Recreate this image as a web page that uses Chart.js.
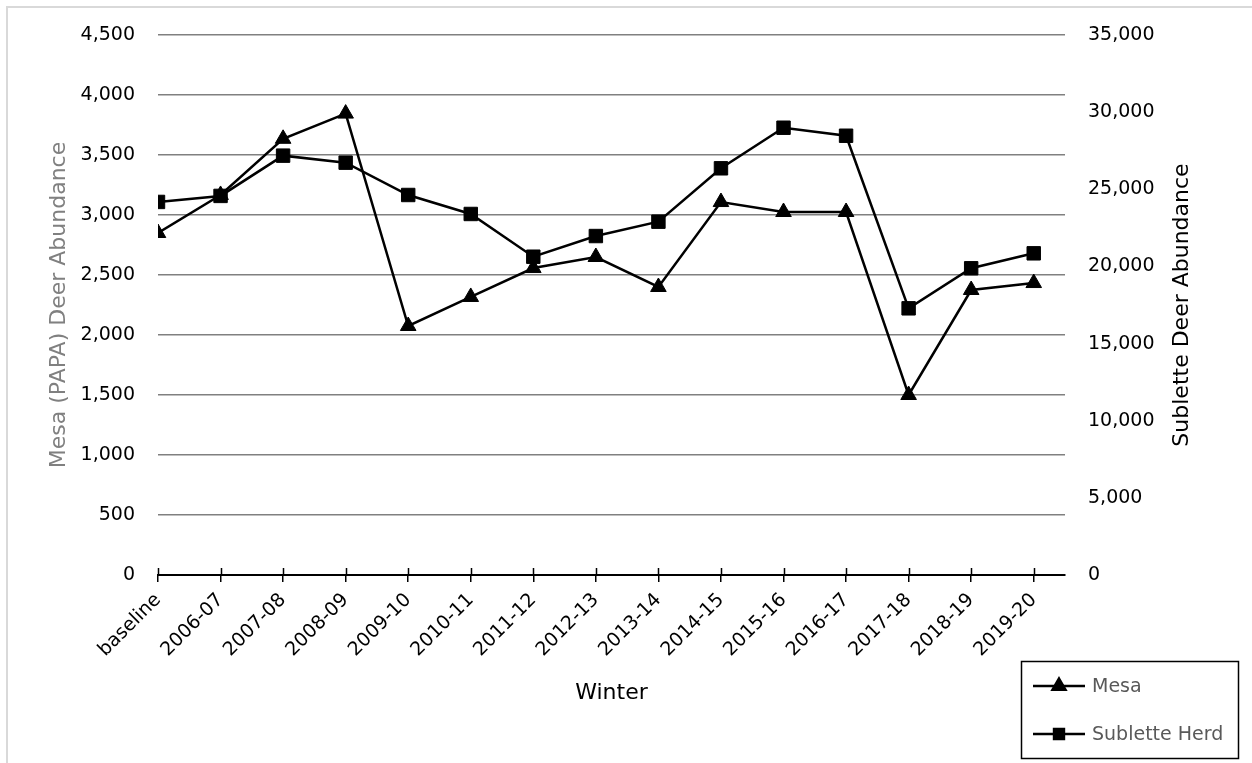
<!DOCTYPE html>
<html>
<head>
<meta charset="utf-8">
<title>Deer Abundance by Winter</title>
<script src="https://cdn.jsdelivr.net/npm/chart.js@4.4.1/dist/chart.umd.min.js"></script>
<style>
  html, body { margin: 0; padding: 0; background: #ffffff; }
  #frame { position: absolute; left: 6px; top: 6px; width: 1300px; height: 800px; border: 2px solid #d9d9d9; }
  #wrap { position: absolute; left: 0; top: 0; width: 1252px; height: 763px; }
</style>
</head>
<body>
<div id="frame"></div>
<div id="wrap"><canvas id="chart" width="1252" height="763"></canvas></div>
<script>
// Winters surveyed
const winters = ['baseline', '2006-07', '2007-08', '2008-09', '2009-10', '2010-11', '2011-12',
  '2012-13', '2013-14', '2014-15', '2015-16', '2016-17', '2017-18', '2018-19', '2019-20'];

// Mesa (PAPA) deer abundance, left axis
const mesaAbundance = [2850, 3167, 3635, 3845, 2075, 2317, 2558, 2650, 2400, 3108, 3025, 3025, 1500, 2375, 2433];

// Sublette herd deer abundance, right axis
const subletteAbundance = [24180, 24570, 27180, 26725, 24630, 23400, 20630, 21970, 22900, 26360, 28990, 28470, 17285, 19880, 20850];

// Axis ranges
const mesaAxis = { min: 0, max: 4500, step: 500 };
const subletteAxis = { min: 0, max: 35000, step: 5000 };

// Axis titles
const mesaTitle = 'Mesa (PAPA) Deer Abundance';
const subletteTitle = 'Sublette Deer Abundance';
const winterTitle = 'Winter';

const FONT = "'DejaVu Sans', Verdana, sans-serif";
const fmt = v => Number(v).toLocaleString('en-US');

const toPoints = arr => arr.map((v, i) => ({ x: i, y: v }));

// Category ticks straddle the x axis line
const crossTicks = {
  id: 'crossTicks',
  beforeDatasetsDraw(chart) {
    const xs = chart.scales.x;
    const ctx = chart.ctx;
    ctx.save();
    ctx.strokeStyle = '#000000';
    ctx.lineWidth = 1.5;
    ctx.beginPath();
    xs.ticks.forEach(t => {
      const px = Math.round(xs.getPixelForValue(t.value)) + 0.5;
      ctx.moveTo(px, xs.top - 7);
      ctx.lineTo(px, xs.top);
    });
    ctx.stroke();
    ctx.restore();
  }
};

// Right-hand axis title, reading bottom to top
const rightTitle = {
  id: 'rightTitle',
  afterDraw(chart) {
    const s = chart.scales.y1;
    const ctx = chart.ctx;
    ctx.save();
    ctx.translate(s.right - 70, (s.top + s.bottom) / 2);
    ctx.rotate(-Math.PI / 2);
    ctx.fillStyle = '#000000';
    ctx.font = '22px ' + FONT;
    ctx.textAlign = 'center';
    ctx.textBaseline = 'middle';
    ctx.fillText(subletteTitle, 0, 0);
    ctx.restore();
  }
};

// Boxed legend at the lower right
const boxLegend = {
  id: 'boxLegend',
  afterDraw(chart) {
    const ctx = chart.ctx;
    const box = { x: 1021, y: 661, w: 217, h: 97 };
    ctx.save();
    ctx.strokeStyle = '#000000';
    ctx.lineWidth = 1.5;
    ctx.strokeRect(box.x + 0.5, box.y + 0.5, box.w, box.h);
    chart.data.datasets.forEach((ds, i) => {
      const y = box.y + 25 + i * 48;
      ctx.strokeStyle = '#000000';
      ctx.lineWidth = 2.5;
      ctx.beginPath();
      ctx.moveTo(box.x + 12, y);
      ctx.lineTo(box.x + 64, y);
      ctx.stroke();
      ctx.fillStyle = '#000000';
      Chart.helpers.drawPoint(ctx, {
        pointStyle: ds.pointStyle,
        radius: ds.pointStyle === 'triangle' ? 7.5 : 7,
        rotation: 0,
        borderWidth: 1
      }, box.x + 38, y);
      ctx.fillStyle = '#595959';
      ctx.font = '19px ' + FONT;
      ctx.textBaseline = 'middle';
      ctx.textAlign = 'left';
      ctx.fillText(ds.label, box.x + 71, y + 1);
    });
    ctx.restore();
  }
};

new Chart(document.getElementById('chart'), {
  type: 'line',
  data: {
    datasets: [
      {
        label: 'Mesa',
        data: toPoints(mesaAbundance),
        yAxisID: 'y',
        order: 1,
        borderColor: '#000000',
        backgroundColor: '#000000',
        borderWidth: 2.5,
        pointStyle: 'triangle',
        pointRadius: 9,
        pointHoverRadius: 9,
        pointBorderWidth: 1,
        pointBackgroundColor: '#000000',
        pointBorderColor: '#000000',
        tension: 0
      },
      {
        label: 'Sublette Herd',
        data: toPoints(subletteAbundance),
        yAxisID: 'y1',
        order: 0,
        borderColor: '#000000',
        backgroundColor: '#000000',
        borderWidth: 2.5,
        pointStyle: 'rect',
        pointRadius: 9.5,
        pointHoverRadius: 9.5,
        pointBorderWidth: 1,
        pointBackgroundColor: '#000000',
        pointBorderColor: '#000000',
        tension: 0
      }
    ]
  },
  options: {
    responsive: false,
    animation: false,
    events: [],
    layout: { padding: { top: 35, left: 0, right: 0, bottom: 0 } },
    plugins: { legend: { display: false }, tooltip: { enabled: false } },
    scales: {
      x: {
        type: 'linear',
        position: 'bottom',
        min: 0,
        max: winters.length - 0.5,
        afterBuildTicks: s => { s.ticks = winters.map((_, i) => ({ value: i })); },
        afterFit: s => { s.height = 188; },
        ticks: {
          autoSkip: false,
          maxRotation: 45,
          minRotation: 45,
          padding: 7,
          color: '#000000',
          font: { family: FONT, size: 19 },
          callback: v => winters[v]
        },
        grid: {
          display: true,
          drawOnChartArea: false,
          drawTicks: true,
          tickLength: 7,
          color: '#000000',
          lineWidth: 1.5
        },
        border: { display: true, color: '#000000', width: 2 },
        title: {
          display: true,
          text: winterTitle,
          color: '#000000',
          font: { family: FONT, size: 22 },
          padding: { top: 0, bottom: 57 }
        }
      },
      y: {
        position: 'left',
        min: mesaAxis.min,
        max: mesaAxis.max,
        afterFit: s => { s.width = 158; },
        ticks: {
          stepSize: mesaAxis.step,
          padding: 23,
          color: '#000000',
          font: { family: FONT, size: 19 },
          callback: v => fmt(v)
        },
        grid: { color: '#808080', lineWidth: 1.5, drawTicks: false },
        border: { display: false },
        title: {
          display: true,
          text: mesaTitle,
          color: '#808080',
          font: { family: FONT, size: 22 },
          padding: { top: 46, bottom: 0 }
        }
      },
      y1: {
        position: 'right',
        min: subletteAxis.min,
        max: subletteAxis.max,
        afterFit: s => { s.width = 187; },
        ticks: {
          stepSize: subletteAxis.step,
          padding: 23,
          color: '#000000',
          font: { family: FONT, size: 19 },
          callback: v => fmt(v)
        },
        grid: { display: false, drawTicks: false },
        border: { display: false },
        title: { display: false }
      }
    }
  },
  plugins: [crossTicks, rightTitle, boxLegend]
});
</script>
</body>
</html>
